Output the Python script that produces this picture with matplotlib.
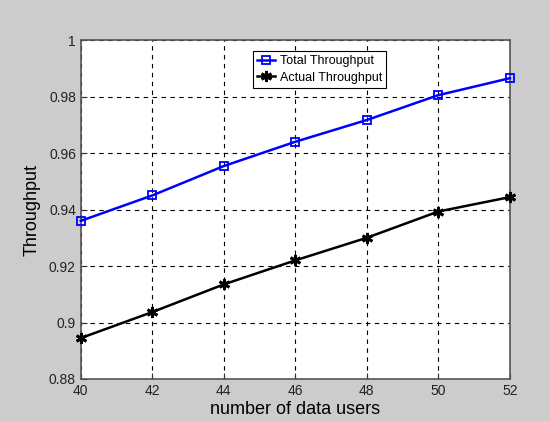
import matplotlib
matplotlib.use("Agg")
import matplotlib.pyplot as plt
from matplotlib.ticker import FuncFormatter

plt.rcParams['font.family'] = ['Liberation Sans', 'DejaVu Sans']

# number of data users vs throughput
users = [40, 42, 44, 46, 48, 50, 52]
total_tp = [0.936, 0.945, 0.9554, 0.964, 0.9717, 0.9805, 0.9865]
actual_tp = [0.8945, 0.9037, 0.9135, 0.922, 0.930, 0.9393, 0.9444]

fig = plt.figure(figsize=(5.5, 4.21), dpi=100, facecolor='#cccccc')
ax = fig.add_axes([0.147, 0.0998, 0.78, 0.805])

ax.plot(users, total_tp, color='#0000ff', lw=1.8, marker='s', ms=6,
        mfc='none', mew=1.3, label='Total Throughput', clip_on=False, zorder=3)
ax.plot(users, actual_tp, color='black', lw=1.8, marker=(6, 2, 0), ms=8,
        mew=2, label='Actual Throughput', clip_on=False, zorder=3)

ax.set_xlim(40, 52)
ax.set_ylim(0.88, 1.0)
ax.set_xticks(users)
ax.set_yticks([0.88, 0.90, 0.92, 0.94, 0.96, 0.98, 1.0])
ax.yaxis.set_major_formatter(FuncFormatter(lambda v, p: ('%g' % round(v, 4))))

ax.grid(True, color='black', ls=(0, (4, 4)), lw=0.8)
ax.tick_params(direction='in', length=4, labelsize=10, colors='#333333',
               labelcolor='#222222')
for s in ax.spines.values():
    s.set_color('#555555')
    s.set_linewidth(1.2)

ax.set_xlabel('number of data users', fontsize=13, labelpad=2)
ax.set_ylabel('Throughput', fontsize=13, labelpad=6)

leg = ax.legend(loc='upper left', bbox_to_anchor=(0.395, 0.975), fontsize=9,
                fancybox=False, framealpha=1, edgecolor='black',
                handlelength=1.4, borderpad=0.35, labelspacing=0.35,
                handletextpad=0.4, borderaxespad=0.2)
leg.get_frame().set_linewidth(0.8)

fig.savefig('out.png', dpi=100, facecolor=fig.get_facecolor())
